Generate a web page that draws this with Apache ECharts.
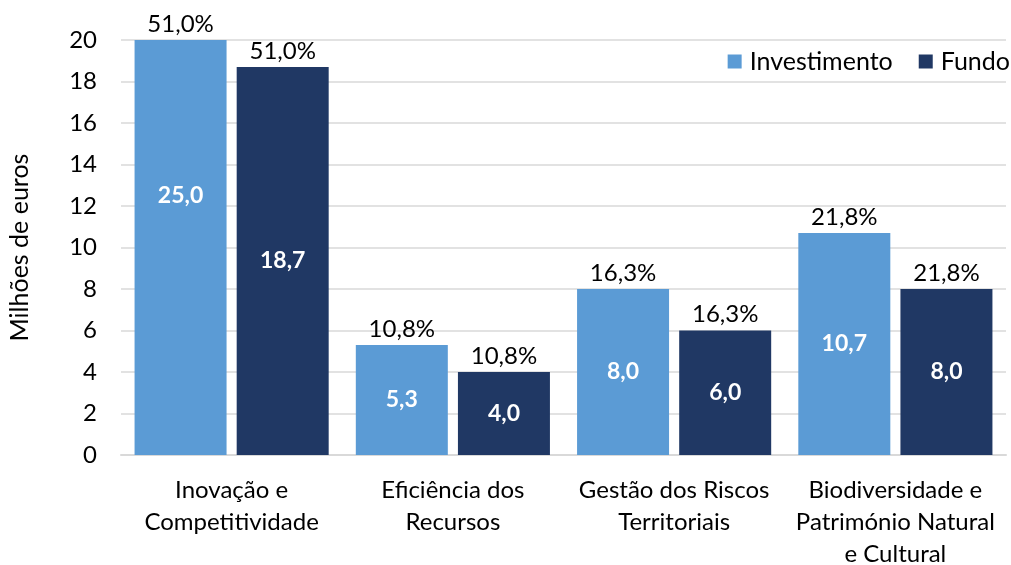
<!DOCTYPE html>
<html>
<head>
<meta charset="utf-8">
<script src="https://cdn.jsdelivr.net/npm/echarts@6/dist/echarts.min.js"></script>
<style>
  html, body { margin: 0; padding: 0; background: #fff; }
  #main { width: 1011px; height: 565px; }
</style>
</head>
<body>
<div id="main"></div>
<script>
var categorias = ["Inovação e\nCompetitividade", "Eficiência dos\nRecursos", "Gestão dos Riscos\nTerritoriais", "Biodiversidade e\nPatrimónio Natural\ne Cultural"];
var investimento = [25.0, 5.3, 8.0, 10.7];
var fundo = [18.7, 4.0, 6.0, 8.0];
var percentagens = [51.0, 10.8, 16.3, 21.8];

var fonte = "Lato, 'Open Sans', sans-serif";
function virgula(v, d) { return v.toFixed(d).replace(".", ","); }

var chart = echarts.init(document.getElementById("main"));

// barras visiveis com a percentagem por cima
function serieBarras(nome, dados, cor) {
  return {
    name: nome,
    type: "bar",
    xAxisIndex: 0,
    data: dados,
    barWidth: 92,
    barGap: "11%",
    itemStyle: { color: cor },
    label: {
      show: true,
      position: "top",
      distance: 4,
      color: "#000",
      fontSize: 24,
      fontFamily: fonte,
      formatter: function (p) { return virgula(percentagens[p.dataIndex], 1) + "%"; }
    }
  };
}
// barras transparentes no eixo escondido, so para o valor ao centro (sem corte)
function serieValores(nome, dados) {
  return {
    name: nome + "_v",
    type: "bar",
    xAxisIndex: 1,
    data: dados,
    barWidth: 92,
    barGap: "11%",
    clip: false,
    silent: true,
    itemStyle: { color: "rgba(0,0,0,0)" },
    label: {
      show: true,
      position: "inside",
      color: "#fff",
      fontSize: 23,
      fontWeight: "bold",
      fontFamily: fonte,
      formatter: function (p) { return virgula(p.value, 1); }
    }
  };
}

var option = {
  animation: false,
  textStyle: { fontFamily: fonte },
  grid: { left: 121, right: 5, top: 40, bottom: 110, outerBoundsMode: "none" },
  legend: {
    data: ["Investimento", "Fundo"],
    right: -4,
    top: 44,
    icon: "rect",
    itemWidth: 14,
    itemHeight: 14,
    itemGap: 26,
    textStyle: { fontSize: 25, color: "#000", fontFamily: fonte, padding: [0, 0, 0, 3] }
  },
  xAxis: [
    {
      type: "category",
      data: categorias,
      axisLine: { lineStyle: { color: "#d9d9d9", width: 2 } },
      axisTick: { show: false },
      axisLabel: { color: "#000", fontSize: 24, lineHeight: 32, margin: 19, interval: 0 }
    },
    {
      type: "category",
      data: categorias,
      show: false
    }
  ],
  yAxis: {
    type: "value",
    min: 0,
    max: 20,
    interval: 2,
    name: "Milhões de euros",
    nameLocation: "middle",
    nameGap: 89,
    nameTextStyle: { color: "#000", fontSize: 25 },
    axisLine: { show: false },
    axisTick: { show: false },
    axisLabel: { color: "#000", fontSize: 24, margin: 24 },
    splitLine: { lineStyle: { color: "#d9d9d9", width: 1.5 } }
  },
  series: [
    serieBarras("Investimento", investimento, "#5b9bd5"),
    serieBarras("Fundo", fundo, "#203864"),
    serieValores("Investimento", investimento),
    serieValores("Fundo", fundo)
  ]
};

chart.setOption(option);
</script>
</body>
</html>
